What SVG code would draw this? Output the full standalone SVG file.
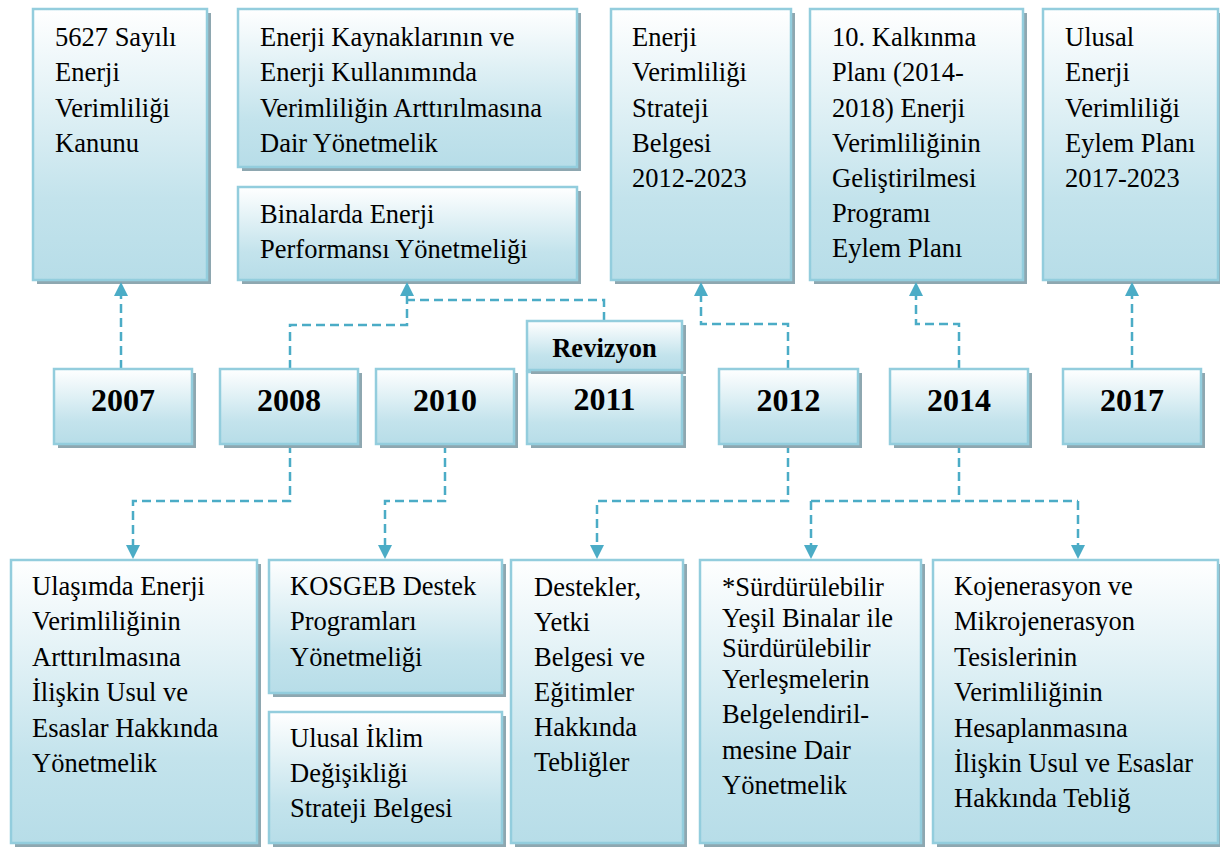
<svg xmlns="http://www.w3.org/2000/svg" width="1220" height="847" viewBox="0 0 1220 847">
<defs>
<linearGradient id="g" x1="0" y1="0" x2="0" y2="1">
<stop offset="0" stop-color="#ffffff"/>
<stop offset="0.7" stop-color="#c3e3ec"/>
<stop offset="1" stop-color="#b7dde8"/>
</linearGradient>
<style>
.sh{fill:#8ea7b0}
.bx{fill:url(#g);stroke:#93cddd;stroke-width:2.5}
.t{font-family:"Liberation Serif","Times New Roman",serif;font-size:26.5px;fill:#000}
.y{font-family:"Liberation Serif","Times New Roman",serif;font-size:32px;font-weight:bold;fill:#000;text-anchor:middle}
.r{font-family:"Liberation Serif","Times New Roman",serif;font-size:26.5px;font-weight:bold;fill:#000;text-anchor:middle}
.c{fill:none;stroke:#4bacc6;stroke-width:2.5;stroke-dasharray:9 5}
.ah{fill:#4bacc6}
</style>
</defs>
<rect width="1220" height="847" fill="#ffffff"/>

<g id="n5627">
<rect class="sh" x="37" y="13" width="174" height="271"/>
<rect class="bx" x="33" y="9" width="174" height="271"/>
<text class="t" x="55"><tspan x="55" y="46">5627 Sayılı</tspan><tspan x="55" y="81">Enerji</tspan><tspan x="55" y="117">Verimliliği</tspan><tspan x="55" y="152">Kanunu</tspan></text>
</g>
<g id="nKaynak">
<rect class="sh" x="242" y="13" width="339" height="158"/>
<rect class="bx" x="238" y="9" width="339" height="158"/>
<text class="t"><tspan x="260" y="46">Enerji Kaynaklarının ve</tspan><tspan x="260" y="81">Enerji Kullanımında</tspan><tspan x="260" y="117">Verimliliğin Arttırılmasına</tspan><tspan x="260" y="152">Dair Yönetmelik</tspan></text>
</g>
<g id="nBina">
<rect class="sh" x="242" y="191" width="339" height="93"/>
<rect class="bx" x="238" y="187" width="339" height="93"/>
<text class="t"><tspan x="260" y="223">Binalarda Enerji</tspan><tspan x="260" y="258">Performansı Yönetmeliği</tspan></text>
</g>
<g id="nStrateji">
<rect class="sh" x="615" y="13" width="180" height="271"/>
<rect class="bx" x="611" y="9" width="180" height="271"/>
<text class="t"><tspan x="632" y="46">Enerji</tspan><tspan x="632" y="81">Verimliliği</tspan><tspan x="632" y="117">Strateji</tspan><tspan x="632" y="152">Belgesi</tspan><tspan x="632" y="187">2012-2023</tspan></text>
</g>
<g id="nKalkinma">
<rect class="sh" x="814" y="13" width="213" height="271"/>
<rect class="bx" x="810" y="9" width="213" height="271"/>
<text class="t"><tspan x="832" y="46">10. Kalkınma</tspan><tspan x="832" y="81">Planı (2014-</tspan><tspan x="832" y="117">2018) Enerji</tspan><tspan x="832" y="152">Verimliliğinin</tspan><tspan x="832" y="187">Geliştirilmesi</tspan><tspan x="832" y="222">Programı</tspan><tspan x="832" y="257">Eylem Planı</tspan></text>
</g>
<g id="nEylem">
<rect class="sh" x="1047" y="13" width="175" height="271"/>
<rect class="bx" x="1043" y="9" width="175" height="271"/>
<text class="t"><tspan x="1065" y="46">Ulusal</tspan><tspan x="1065" y="81">Enerji</tspan><tspan x="1065" y="117">Verimliliği</tspan><tspan x="1065" y="152">Eylem Planı</tspan><tspan x="1065" y="187">2017-2023</tspan></text>
</g>

<g id="connectors">
<path class="c" d="M121,369 V296"/>
<path class="c" d="M290,369 V325 H407 V296"/>
<path class="c" d="M604,321 V300 H407"/>
<path class="c" d="M788,369 V324 H701 V296"/>
<path class="c" d="M959,369 V324 H916 V296"/>
<path class="c" d="M1132,369 V296"/>
<path class="c" d="M290,444 V501 H133 V545"/>
<path class="c" d="M445,444 V501 H385 V545"/>
<path class="c" d="M788,444 V501 H597 V545"/>
<path class="c" d="M959,444 V501"/>
<path class="c" d="M811,501 H1078"/>
<path class="c" d="M811,501 V545"/>
<path class="c" d="M1078,501 V545"/>
<polygon class="ah" points="121,282 114,296 128,296"/>
<polygon class="ah" points="407,282 400,296 414,296"/>
<polygon class="ah" points="701,282 694,296 708,296"/>
<polygon class="ah" points="916,282 909,296 923,296"/>
<polygon class="ah" points="1132,282 1125,296 1139,296"/>
<polygon class="ah" points="133,559 126,545 140,545"/>
<polygon class="ah" points="385,559 378,545 392,545"/>
<polygon class="ah" points="597,559 590,545 604,545"/>
<polygon class="ah" points="811,559 804,545 818,545"/>
<polygon class="ah" points="1078,559 1071,545 1085,545"/>
</g>

<g id="y2007">
<rect class="sh" x="58" y="373" width="138" height="75"/>
<rect class="bx" x="54" y="369" width="138" height="75"/>
<text class="y" x="123" y="411">2007</text>
</g>
<g id="y2008">
<rect class="sh" x="224" y="373" width="138" height="75"/>
<rect class="bx" x="220" y="369" width="138" height="75"/>
<text class="y" x="289" y="411">2008</text>
</g>
<g id="y2010">
<rect class="sh" x="380" y="373" width="138" height="75"/>
<rect class="bx" x="376" y="369" width="138" height="75"/>
<text class="y" x="445" y="411">2010</text>
</g>
<g id="y2011">
<rect class="sh" x="531" y="376" width="155" height="72"/>
<rect class="bx" x="527" y="372" width="155" height="72"/>
<text class="y" x="604.5" y="410">2011</text>
</g>
<g id="revizyon">
<rect class="sh" x="531" y="325" width="155" height="49"/>
<rect class="bx" x="527" y="321" width="155" height="49"/>
<text class="r" x="604.5" y="357">Revizyon</text>
</g>
<g id="y2012">
<rect class="sh" x="723" y="373" width="139" height="75"/>
<rect class="bx" x="719" y="369" width="139" height="75"/>
<text class="y" x="788.5" y="411">2012</text>
</g>
<g id="y2014">
<rect class="sh" x="894" y="373" width="138" height="75"/>
<rect class="bx" x="890" y="369" width="138" height="75"/>
<text class="y" x="959" y="411">2014</text>
</g>
<g id="y2017">
<rect class="sh" x="1067" y="373" width="138" height="75"/>
<rect class="bx" x="1063" y="369" width="138" height="75"/>
<text class="y" x="1132" y="411">2017</text>
</g>

<g id="nUlasim">
<rect class="sh" x="15" y="564" width="246" height="283"/>
<rect class="bx" x="11" y="560" width="246" height="283"/>
<text class="t"><tspan x="32" y="595">Ulaşımda Enerji</tspan><tspan x="32" y="630">Verimliliğinin</tspan><tspan x="32" y="666">Arttırılmasına</tspan><tspan x="32" y="701">İlişkin Usul ve</tspan><tspan x="32" y="737">Esaslar Hakkında</tspan><tspan x="32" y="772">Yönetmelik</tspan></text>
</g>
<g id="nKosgeb">
<rect class="sh" x="273" y="564" width="233" height="133"/>
<rect class="bx" x="269" y="560" width="233" height="133"/>
<text class="t"><tspan x="290" y="595">KOSGEB Destek</tspan><tspan x="290" y="630">Programları</tspan><tspan x="290" y="666">Yönetmeliği</tspan></text>
</g>
<g id="nIklim">
<rect class="sh" x="273" y="716" width="233" height="131"/>
<rect class="bx" x="269" y="712" width="233" height="131"/>
<text class="t"><tspan x="290" y="747">Ulusal İklim</tspan><tspan x="290" y="782">Değişikliği</tspan><tspan x="290" y="817">Strateji Belgesi</tspan></text>
</g>
<g id="nDestek">
<rect class="sh" x="515" y="564" width="172" height="283"/>
<rect class="bx" x="511" y="560" width="172" height="283"/>
<text class="t"><tspan x="534" y="596">Destekler,</tspan><tspan x="534" y="631">Yetki</tspan><tspan x="534" y="666">Belgesi ve</tspan><tspan x="534" y="701">Eğitimler</tspan><tspan x="534" y="736">Hakkında</tspan><tspan x="534" y="771">Tebliğler</tspan></text>
</g>
<g id="nYesil">
<rect class="sh" x="704" y="564" width="221" height="283"/>
<rect class="bx" x="700" y="560" width="221" height="283"/>
<text class="t"><tspan x="722" y="596">*Sürdürülebilir</tspan><tspan x="722" y="627">Yeşil Binalar ile</tspan><tspan x="722" y="657">Sürdürülebilir</tspan><tspan x="722" y="688">Yerleşmelerin</tspan><tspan x="722" y="723">Belgelendiril-</tspan><tspan x="722" y="759">mesine Dair</tspan><tspan x="722" y="794">Yönetmelik</tspan></text>
</g>
<g id="nKojen">
<rect class="sh" x="937" y="564" width="285" height="283"/>
<rect class="bx" x="933" y="560" width="285" height="283"/>
<text class="t"><tspan x="954" y="595">Kojenerasyon ve</tspan><tspan x="954" y="630">Mikrojenerasyon</tspan><tspan x="954" y="666">Tesislerinin</tspan><tspan x="954" y="701">Verimliliğinin</tspan><tspan x="954" y="737">Hesaplanmasına</tspan><tspan x="954" y="772">İlişkin Usul ve Esaslar</tspan><tspan x="954" y="807">Hakkında Tebliğ</tspan></text>
</g>
</svg>
